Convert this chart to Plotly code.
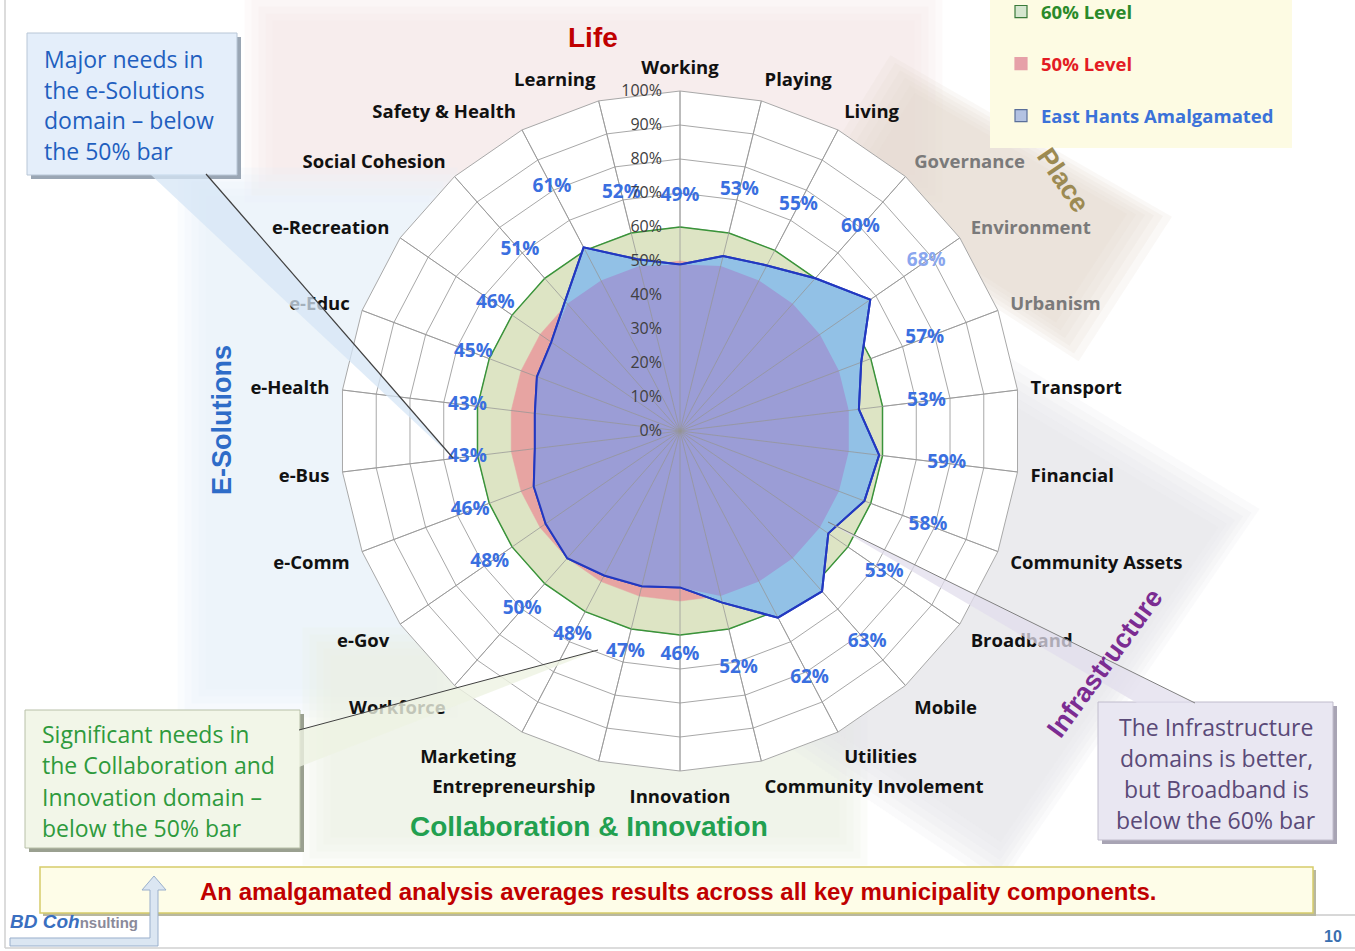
import plotly.graph_objects as go

W, H = 1355, 951

# ---------------- data ----------------
categories = ["Working", "Playing", "Living", "Governance", "Environment", "Urbanism",
              "Transport", "Financial", "Community Assets", "Broadband", "Mobile",
              "Utilities", "Community Involement", "Innovation", "Entrepreneurship",
              "Marketing", "Workforce", "e-Gov", "e-Comm", "e-Bus", "e-Health",
              "e-Educ", "e-Recreation", "Social Cohesion", "Safety & Health", "Learning"]
east_hants = [49, 53, 55, 60, 68, 57, 53, 59, 58, 53, 63, 62, 52,
              46, 47, 48, 50, 48, 46, 43, 43, 45, 46, 51, 61, 52]
level_60 = [60, 60, 60, 60, 60, 60, 60, 60, 60, 60, 60, 60, 60,
            60, 60, 60, 60, 60, 60, 60, 60, 60, 60, 60, 60, 60]
level_50 = [50, 50, 50, 50, 50, 50, 50, 50, 50, 50, 50, 50, 50,
            50, 50, 50, 50, 50, 50, 50, 50, 50, 50, 50, 50, 50]
radial_ticks = [0, 10, 20, 30, 40, 50, 60, 70, 80, 90, 100]
radial_tick_labels = ["0%", "10%", "20%", "30%", "40%", "50%", "60%", "70%", "80%", "90%", "100%"]
faded_categories = ["Governance", "Environment", "Urbanism"]
faded_value_labels = ["Environment"]

# ---------------- helpers ----------------
def px(x):
    return x / W

def py(y):
    return 1 - y / H

def closed(lst):
    return list(lst) + [lst[0]]

def path(points):
    return "M " + " L ".join(f"{px(x):.5f},{py(y):.5f}" for x, y in points) + " Z"

shapes = []
annotations = []

def rect(x0, y0, x1, y1, fill, line=None, lw=1, opacity=1, layer="below"):
    shapes.append(dict(type="rect", xref="paper", yref="paper",
                       x0=px(x0), x1=px(x1), y0=py(y1), y1=py(y0),
                       fillcolor=fill, opacity=opacity, layer=layer,
                       line=dict(color=line or "rgba(0,0,0,0)", width=lw if line else 0)))

def poly(points, fill, line=None, lw=1, opacity=1, layer="below"):
    shapes.append(dict(type="path", xref="paper", yref="paper", path=path(points),
                       fillcolor=fill, opacity=opacity, layer=layer,
                       line=dict(color=line or "rgba(0,0,0,0)", width=lw if line else 0)))

def seg(x0, y0, x1, y1, color, lw=1, layer="below"):
    shapes.append(dict(type="line", xref="paper", yref="paper",
                       x0=px(x0), y0=py(y0), x1=px(x1), y1=py(y1), layer=layer,
                       line=dict(color=color, width=lw)))

def text(x, y, s, size, color, family="Open Sans", xanchor="center", angle=0, bold=False):
    annotations.append(dict(xref="paper", yref="paper", x=px(x), y=py(y), text=(f"<b>{s}</b>" if bold else s),
                            showarrow=False, xanchor=xanchor, yanchor="middle", textangle=angle,
                            font=dict(size=size, color=color, family=family)))

# ---------------- decorative backgrounds (soft) ----------------
def soft_rect(x0, y0, x1, y1, color, steps=5, grow=7, op=0.2):
    for i in range(steps):
        g = grow * (steps - 1 - i) - grow * 1.5
        rect(x0 - g, y0 - g, x1 + g, y1 + g, color, opacity=op)

def soft_poly(points, color, steps=6, grow=9, op=0.18):
    cx = sum(p[0] for p in points) / len(points)
    cy = sum(p[1] for p in points) / len(points)
    for i in range(steps):
        g = grow * (steps - 1 - i) - grow * 2
        pts = []
        for x, y in points:
            dx, dy = x - cx, y - cy
            d = (dx * dx + dy * dy) ** 0.5
            pts.append((x + dx / d * g, y + dy / d * g))
        poly(pts, color, opacity=op)

soft_rect(262, 10, 925, 185, "#f6e6e6")                      # Life
soft_rect(195, 185, 440, 700, "#e4eef9")                     # E-Solutions
soft_rect(320, 645, 850, 848, "#edf1e0")                     # Collaboration
soft_poly([(905, 78), (1145, 215), (1065, 338), (835, 190)], "#e2dacb")    # Place
soft_poly([(1010, 385), (1235, 520), (1000, 860), (790, 720)], "#e3e1ea")  # Infrastructure

# slide frame
seg(5, 0, 5, 948, "#d0d0d0", 1.5)
seg(5, 948, 1355, 948, "#d0d0d0", 1.5)
seg(1313, 915, 1355, 915, "#b0b0b0", 1)

# legend box
rect(990, -5, 1292, 148, "#fdfbe3")

# ---------------- callouts ----------------
# top-left (E-Solutions)
rect(31, 37, 241, 179, "#9aa6b4")
rect(27, 33, 237, 175, "#e4eefa", line="#b8c6d6", lw=1)
poly([(150, 174), (206, 174), (453, 458)], "#d6e5f5", opacity=0.75, layer="above")
seg(206, 174, 453, 458, "#404040", 1.2, layer="above")
for i, s in enumerate(["Major needs in", "the e-Solutions", "domain \u2013 below", "the 50% bar"]):
    text(42, 59 + i * 30.7, s, 23, "#1f5fbf", xanchor="left", family="Open Sans")

# bottom-left (Collaboration)
rect(29, 714, 304, 852, "#9aa090")
rect(25, 710, 300, 848, "#f2f6e8", line="#b8c0a8", lw=1)
poly([(299, 730), (299, 767), (598, 650)], "#eef3e2", opacity=0.8, layer="above")
seg(299, 730, 598, 650, "#404040", 1.0, layer="above")
for i, s in enumerate(["Significant needs in", "the Collaboration and", "Innovation domain \u2013", "below the 50% bar"]):
    text(40, 734 + i * 31.3, s, 23, "#2e9a3c", xanchor="left", family="Open Sans")

# bottom-right (Infrastructure)
rect(1102, 706, 1337, 844, "#a8a4b4")
rect(1098, 702, 1333, 840, "#e9e7f2", line="#c0bccc", lw=1)
poly([(828, 522), (1137, 703), (1195, 703)], "#e2deec", opacity=0.75, layer="above")
seg(828, 522, 1195, 703, "#808080", 1.0, layer="above")
for i, s in enumerate(["The Infrastructure", "domains is better,", "but Broadband is", "below the 60% bar"]):
    text(1216, 727 + i * 31, s, 23, "#5a4a78", family="Open Sans")

# bottom banner
rect(43, 870, 1316, 916, "#b8b8a0")
rect(40, 867, 1313, 913, "#fefde8", line="#d6cc6a", lw=1.5)
text(678, 891, "An amalgamated analysis averages results across all key municipality components.",
     24, "#c00000", family="Liberation Sans", bold=True)

# logo
poly([(10, 946), (158, 946), (158, 890), (166, 890), (154, 876), (142, 890), (150, 890), (150, 938), (10, 938)],
     "#dbe6f2", line="#9ab0cc", lw=1)
text(8, 921, "<b><i>BD Coh</i></b><span style='font-size:15px;color:#8a8a9a'><b>nsulting</b></span>",
     19, "#3a6fc0", family="Liberation Sans", xanchor="left")
text(1333, 936, "10", 16, "#3a6fb0", family="Liberation Sans", bold=True)

# domain titles
text(593, 38, "Life", 28, "#c00000", family="Liberation Sans", bold=True)
text(1063, 180, "Place", 27, "#9c8a52", family="Liberation Sans", bold=True, angle=56)
text(1105, 663, "Infrastructure", 27, "#7b2c92", family="Liberation Sans", bold=True, angle=-54)
text(222, 420, "E-Solutions", 27, "#2e6cc8", family="Liberation Sans", bold=True, angle=-90)
text(589, 826, "Collaboration &amp; Innovation", 28, "#22a050", family="Liberation Sans", bold=True)

# ---------------- polar chart ----------------
theta_c = closed(categories)
fig = go.Figure()

fig.add_trace(go.Scatterpolar(
    r=closed(level_60), theta=theta_c, fill="toself", fillcolor="#dde4c4",
    line=dict(color="#3a943a", width=1.5), mode="lines", showlegend=False, hoverinfo="skip"))
fig.add_trace(go.Scatterpolar(
    r=closed(level_50), theta=theta_c, fill="toself", fillcolor="#e7a4a2",
    line=dict(color="#e7a4a2", width=0.5), mode="lines", showlegend=False, hoverinfo="skip"))
fig.add_trace(go.Scatterpolar(
    r=closed(east_hants), theta=theta_c, fill="toself", fillcolor="#92c1e6",
    line=dict(color="#2a44c4", width=2), mode="lines", showlegend=False, hoverinfo="skip"))
overlap = [min(v, l) for v, l in zip(east_hants, level_50)]
fig.add_trace(go.Scatterpolar(
    r=closed(overlap), theta=theta_c, fill="toself", fillcolor="#9b9dd6",
    line=dict(color="rgba(0,0,0,0)", width=0), mode="lines", showlegend=False, hoverinfo="skip"))

# spokes drawn over fills
sp_theta, sp_r = [], []
for c in categories:
    sp_theta += [c, c, None]
    sp_r += [0, 100, None]
fig.add_trace(go.Scatterpolar(
    r=sp_r, theta=sp_theta, mode="lines", line=dict(color="rgba(150,150,150,0.75)", width=1),
    showlegend=False, hoverinfo="skip", connectgaps=False))

fig.add_trace(go.Scatterpolar(
    r=closed(east_hants), theta=theta_c, mode="lines",
    line=dict(color="#2238c0", width=2), showlegend=False, hoverinfo="skip"))

label_colors = ["#8aa6ee" if c in faded_value_labels else "#3a6fe0" for c in categories]
fig.add_trace(go.Scatterpolar(
    r=[v + 20 for v in east_hants], theta=categories, mode="text",
    text=[f"<b>{v}%</b>" for v in east_hants],
    textfont=dict(size=19, color=label_colors, family="Open Sans"),
    showlegend=False, hoverinfo="skip"))

# legend entries (square swatches like the original)
legend_items = [
    ("<b><span style='color:#2a8a2a'>60% Level</span></b>", "#d5e6cf", "#3a7a3a"),
    ("<b><span style='color:#e31b23'>50% Level</span></b>", "#e6a0a8", "#e6a0a8"),
    ("<b><span style='color:#3b72d9'>East Hants Amalgamated</span></b>", "#b3c2e2", "#5a6f9a"),
]
for i, (nm, fc, lc) in enumerate(legend_items):
    fig.add_trace(go.Scatterpolar(
        r=[None], theta=[categories[0]], mode="markers", name=nm, legendgroup=f"g{i}",
        marker=dict(symbol="square", size=12, color=fc, line=dict(color=lc, width=1.2)),
        hoverinfo="skip"))

tick_text = [f"<span style='color:#7a7a7a'>{c}</span>" if c in faded_categories else c for c in categories]
tick_text = [f"<b>{t}</b>" for t in tick_text]

fig.update_layout(
    width=W, height=H, autosize=False,
    margin=dict(l=0, r=0, t=0, b=0, autoexpand=False),
    paper_bgcolor="white", plot_bgcolor="white",
    polar=dict(
        domain=dict(x=[px(680 - 340), px(680 + 340)], y=[py(431 + 340), py(431 - 340)]),
        bgcolor="white",
        gridshape="linear",
        radialaxis=dict(range=[0, 100], tickvals=radial_ticks, ticktext=radial_tick_labels,
                        angle=90, tickangle=90, side="counterclockwise", showline=False,
                        ticks="outside", ticklen=12, tickcolor="rgba(0,0,0,0)",
                        gridcolor="#a8a8a8", gridwidth=1, layer="above traces",
                        tickfont=dict(size=16, color="#404040", family="Open Sans")),
        angularaxis=dict(type="category", categoryarray=categories, rotation=90, direction="clockwise",
                         tickmode="array", tickvals=categories, ticktext=tick_text,
                         showline=True, linecolor="#a8a8a8", linewidth=1,
                         gridcolor="#a8a8a8", ticks="outside", ticklen=9, tickcolor="rgba(0,0,0,0)",
                         tickfont=dict(size=18.5, color="#111111", family="Open Sans")),
    ),
    legend=dict(x=px(1001), y=py(-7), xanchor="left", yanchor="top", bgcolor="rgba(0,0,0,0)",
                font=dict(size=18.5, family="Open Sans"), tracegroupgap=25, itemwidth=30),
    shapes=shapes, annotations=annotations,
)

fig.write_html("out.html", config={"displayModeBar": False},
               post_script="document.body.style.margin='0px';document.body.style.padding='0px';")
